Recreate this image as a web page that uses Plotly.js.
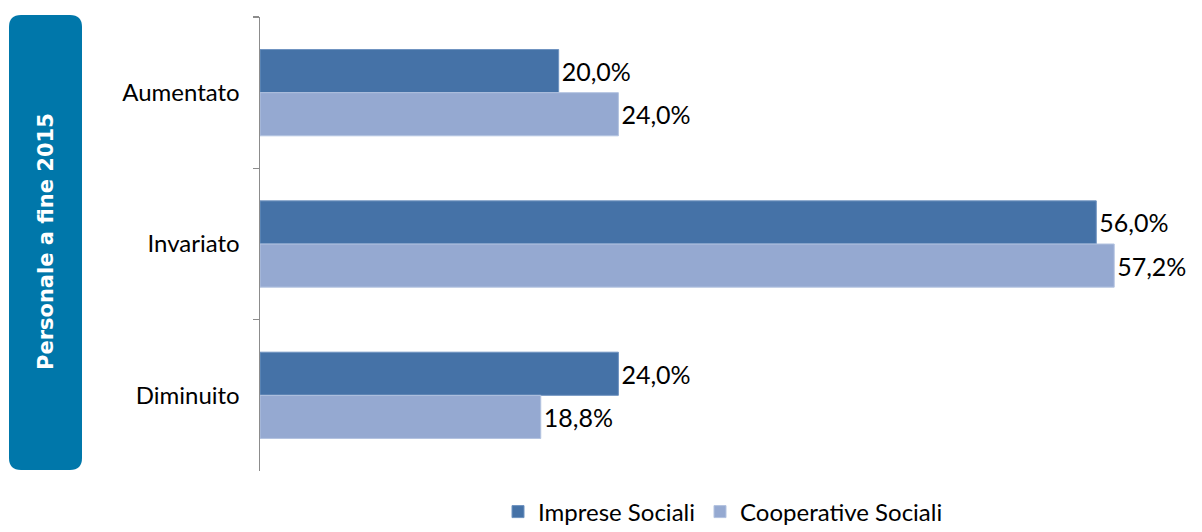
<!DOCTYPE html>
<html>
<head>
<meta charset="utf-8">
<script src="https://cdn.plot.ly/plotly-3.0.1.min.js"></script>
<style>html,body{margin:0;padding:0;background:#fff;}#chart{width:1202px;height:532px;}</style>
</head>
<body>
<div id="chart"></div>
<script>
const categories = ["Aumentato", "Invariato", "Diminuito"];
const impreseSociali = [20.0, 56.0, 24.0];
const cooperativeSociali = [24.0, 57.2, 18.8];
const seriesNames = ["Imprese Sociali", "Cooperative Sociali"];
const sideTitle = "Personale a fine 2015";

const fmt = v => v.toFixed(1).replace(".", ",") + "%";

const W = 1202, H = 532;
const mL = 260, mR = 46, mT = 17, mB = 61;
const plotW = W - mL - mR, plotH = H - mT - mB;
const fx = px => (px - mL) / plotW;
const fy = py => (H - mB - py) / plotH;

function roundedRect(x0, y0, x1, y1, r) {
  const P = (x, y) => fx(x) + "," + fy(y);
  return "M" + P(x0 + r, y0) + " L" + P(x1 - r, y0) + " Q" + P(x1, y0) + " " + P(x1, y0 + r) +
    " L" + P(x1, y1 - r) + " Q" + P(x1, y1) + " " + P(x1 - r, y1) +
    " L" + P(x0 + r, y1) + " Q" + P(x0, y1) + " " + P(x0, y1 - r) +
    " L" + P(x0, y0 + r) + " Q" + P(x0, y0) + " " + P(x0 + r, y0) + " Z";
}

const labelFont = {family: "Lato, sans-serif", size: 25, color: "#000"};

const traces = [
  {
    type: "bar", orientation: "h", name: seriesNames[0],
    y: categories, x: impreseSociali,
    text: impreseSociali.map(fmt), textposition: "outside", cliponaxis: false,
    constraintext: "none",
    textfont: labelFont,
    marker: {color: "#4572a7", line: {color: "#6f93c0", width: 1}}
  },
  {
    type: "bar", orientation: "h", name: seriesNames[1],
    y: categories, x: cooperativeSociali,
    text: cooperativeSociali.map(fmt), textposition: "outside", cliponaxis: false,
    constraintext: "none",
    textfont: labelFont,
    marker: {color: "#95a9d1", line: {color: "#b3c3e0", width: 1}}
  }
];

const layout = {
  width: W, height: H,
  margin: {l: mL, r: mR, t: mT, b: mB, pad: 0, autoexpand: false},
  paper_bgcolor: "#fff", plot_bgcolor: "#fff",
  barmode: "group", bargap: 0.43, bargroupgap: 0,
  showlegend: true,
  legend: {
    orientation: "h", xref: "container", yref: "container",
    x: 723 / W, xanchor: "center", y: 1 - 512 / H, yanchor: "middle",
    font: {family: "Lato, sans-serif", size: 24, color: "#000"},
    traceorder: "normal"
  },
  xaxis: {
    range: [0, 60], showgrid: false, zeroline: false, showline: false,
    showticklabels: false, ticks: "", fixedrange: true
  },
  yaxis: {
    type: "category", autorange: "reversed",
    showline: true, linecolor: "#8c8c8c", linewidth: 1.5,
    ticks: "outside", tickson: "boundaries", ticklen: 6, tickcolor: "#8c8c8c", tickwidth: 1.5,
    showgrid: false, zeroline: false,
    tickfont: {family: "Lato, sans-serif", size: 24, color: "#000"},
    ticklabelstandoff: 14
  },
  shapes: [
    {type: "path", xref: "paper", yref: "paper", path: roundedRect(9, 15, 82, 470, 12),
     fillcolor: "#0077aa", line: {width: 0}, layer: "below"}
  ],
  annotations: [
    {xref: "paper", yref: "paper", x: fx(46), y: fy(242), text: "<b>" + sideTitle + "</b>",
     textangle: -90, showarrow: false, xanchor: "center", yanchor: "middle",
     font: {family: "DejaVu Sans, Verdana, sans-serif", size: 21, color: "#fff"}}
  ]
};

Plotly.newPlot("chart", traces, layout, {displayModeBar: false, staticPlot: true});
</script>
</body>
</html>
